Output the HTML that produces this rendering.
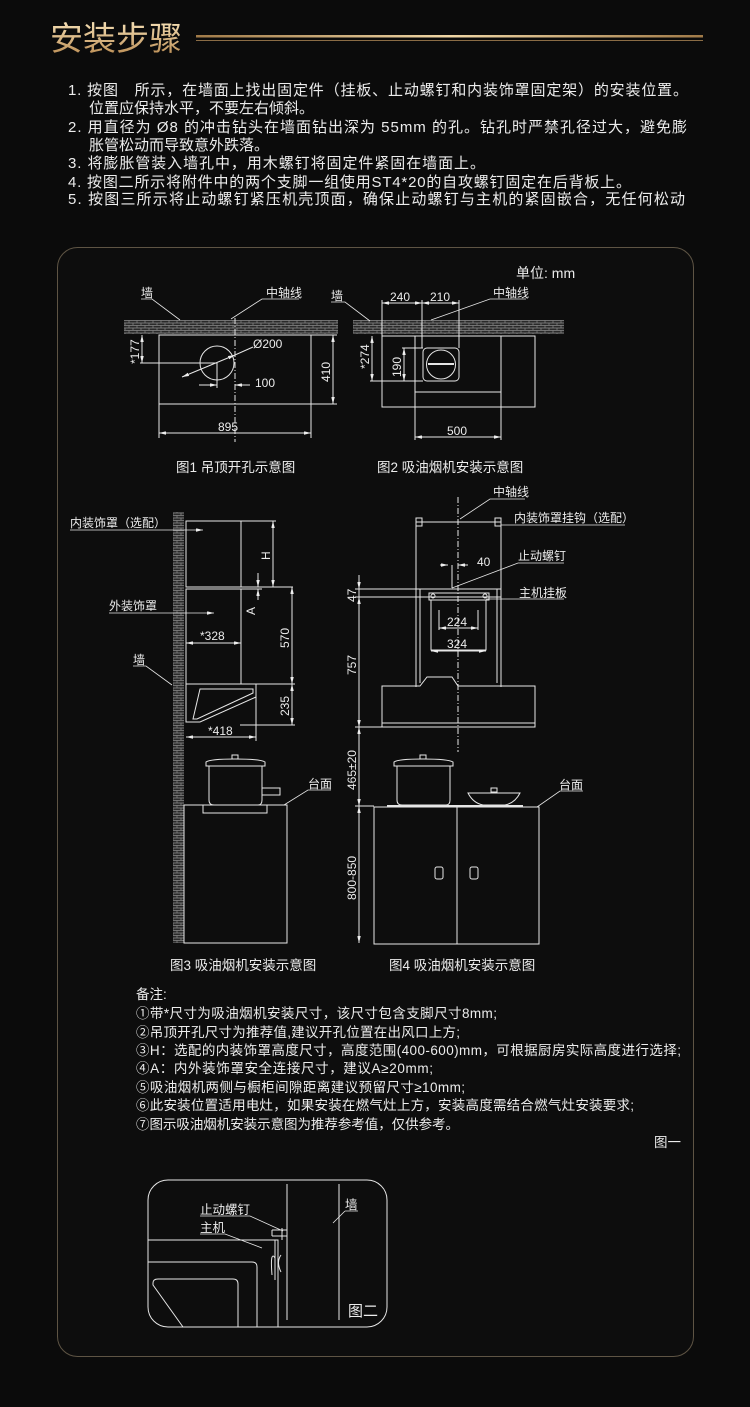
<!DOCTYPE html>
<html><head><meta charset="utf-8"><style>
html,body{margin:0;padding:0;background:#0b0b0b;}
svg{display:block;}
text{font-family:"Liberation Sans","Noto Sans CJK SC",sans-serif;fill:#ececec;}
</style></head><body>
<svg width="750" height="1407" viewBox="0 0 750 1407" xmlns="http://www.w3.org/2000/svg">
<defs>
<linearGradient id="g" x1="0" y1="0" x2="0" y2="1"><stop offset="0" stop-color="#f7e2b8"/><stop offset="1" stop-color="#b98a50"/></linearGradient>
<linearGradient id="gl" x1="0" y1="0" x2="1" y2="0"><stop offset="0" stop-color="#a07a48"/><stop offset=".5" stop-color="#f0d7a6"/><stop offset="1" stop-color="#a07a48"/></linearGradient>
<pattern id="br" width="8" height="5" patternUnits="userSpaceOnUse"><rect width="8" height="5" fill="#2a2a2a"/><path d="M0 .5H8M0 3H8M1 .5V3M5 3V5" stroke="#8a8a8a" stroke-width=".7"/></pattern>
<marker id="a" viewBox="0 0 8 4" refX="8" refY="2" markerWidth="7" markerHeight="3.5" orient="auto-start-reverse" markerUnits="userSpaceOnUse"><path d="M0 0L8 2L0 4Z" fill="#eee"/></marker>
</defs>

<!-- title -->
<text x="50" y="50" font-size="33" style="fill:url(#g)">安装步骤</text>
<rect x="196" y="35" width="507" height="2.5" fill="url(#gl)"/>
<rect x="196" y="40" width="507" height="1" fill="#8a6c45"/>

<g font-size="15">
<text x="68" y="95" textLength="620">1. 按图　所示，在墙面上找出固定件（挂板、止动螺钉和内装饰罩固定架）的安装位置。</text>
<text x="89" y="113">位置应保持水平，不要左右倾斜。</text>
<text x="68" y="132" textLength="619">2. 用直径为 Ø8 的冲击钻头在墙面钻出深为 55mm 的孔。钻孔时严禁孔径过大，避免膨</text>
<text x="89" y="150">胀管松动而导致意外跌落。</text>
<text x="68" y="168" textLength="417">3. 将膨胀管装入墙孔中，用木螺钉将固定件紧固在墙面上。</text>
<text x="68" y="187" textLength="563">4. 按图二所示将附件中的两个支脚一组使用ST4*20的自攻螺钉固定在后背板上。</text>
<text x="68" y="204" textLength="617">5. 按图三所示将止动螺钉紧压机壳顶面，确保止动螺钉与主机的紧固嵌合，无任何松动</text>
</g>

<!-- panel -->
<rect x="57.5" y="247.5" width="636" height="1109" rx="20" fill="#0d0d0d" stroke="#5e5444" stroke-width="1"/>

<g stroke="#e6e6e6" stroke-width="1" fill="none">
<!-- FIG1 -->
<rect x="124" y="320" width="214" height="14" fill="url(#br)" stroke="none"/>
<rect x="159" y="335" width="152" height="69"/>
<line x1="235" y1="318" x2="235" y2="442" stroke-dasharray="6 2 1 2"/>
<circle cx="217" cy="363" r="17"/>
<line x1="182" y1="377" x2="235" y2="355" marker-start="url(#a)" marker-end="url(#a)"/>
<line x1="235" y1="355" x2="253" y2="347"/>
<line x1="142" y1="335" x2="142" y2="363" marker-start="url(#a)" marker-end="url(#a)"/>
<line x1="140" y1="363" x2="217" y2="363"/>
<line x1="199" y1="385" x2="217" y2="385" marker-end="url(#a)"/>
<line x1="235" y1="385" x2="250" y2="385" marker-start="url(#a)"/>
<line x1="217" y1="363" x2="217" y2="388"/>
<line x1="311" y1="335" x2="337" y2="335"/><line x1="311" y1="404" x2="337" y2="404"/>
<line x1="333" y1="335" x2="333" y2="404" marker-start="url(#a)" marker-end="url(#a)"/>
<line x1="159" y1="404" x2="159" y2="438"/><line x1="311" y1="404" x2="311" y2="438"/>
<line x1="159" y1="433" x2="311" y2="433" marker-start="url(#a)" marker-end="url(#a)"/>
<path d="M141 299H152L180 320M299 299H262L231 319" stroke-width=".8"/>

<!-- FIG2 -->
<rect x="353" y="320" width="211" height="14" fill="url(#br)" stroke="none"/>
<rect x="382" y="336" width="153" height="71"/>
<path d="M415 336V392H501V336"/>
<rect x="423" y="348" width="36" height="33" rx="4"/>
<circle cx="441" cy="364.5" r="14.5"/>
<line x1="428" y1="364" x2="454" y2="364" stroke-width="2"/>
<line x1="382" y1="300" x2="382" y2="336"/><line x1="422" y1="300" x2="422" y2="348"/><line x1="459" y1="300" x2="459" y2="348"/>
<line x1="382" y1="303" x2="422" y2="303" marker-start="url(#a)" marker-end="url(#a)"/>
<line x1="422" y1="303" x2="459" y2="303" marker-start="url(#a)" marker-end="url(#a)"/>
<line x1="372" y1="336" x2="372" y2="381" marker-start="url(#a)" marker-end="url(#a)"/>
<line x1="370" y1="381" x2="423" y2="381"/><line x1="402" y1="348" x2="423" y2="348"/>
<line x1="404" y1="348" x2="404" y2="381" marker-start="url(#a)" marker-end="url(#a)"/>
<line x1="415" y1="392" x2="415" y2="440"/><line x1="501" y1="392" x2="501" y2="440"/>
<line x1="415" y1="437" x2="501" y2="437" marker-start="url(#a)" marker-end="url(#a)"/>
<path d="M331 302H345L370 321M526 299H490L431 320" stroke-width=".8"/>

<!-- FIG3 -->
<rect x="173" y="512" width="11" height="431" fill="url(#br)" stroke="none"/>
<rect x="186" y="521" width="55" height="66"/>
<line x1="186" y1="587" x2="293" y2="587"/>
<rect x="186" y="589" width="55" height="95"/>
<path d="M186 684H256V697L200 722H186Z"/>
<path d="M200 689H253V693L197 719H193Z"/>
<line x1="241" y1="521" x2="276" y2="521"/>
<line x1="273" y1="521" x2="273" y2="587" marker-start="url(#a)" marker-end="url(#a)"/>
<line x1="258" y1="573" x2="258" y2="587" marker-end="url(#a)"/>
<line x1="258" y1="589" x2="258" y2="600" marker-start="url(#a)"/>
<line x1="241" y1="589" x2="262" y2="589"/>
<line x1="292" y1="587" x2="292" y2="684" marker-start="url(#a)" marker-end="url(#a)"/>
<line x1="256" y1="684" x2="295" y2="684"/>
<line x1="292" y1="684" x2="292" y2="725" marker-start="url(#a)" marker-end="url(#a)"/>
<line x1="240" y1="725" x2="295" y2="725"/>
<line x1="186" y1="643" x2="241" y2="643" marker-start="url(#a)" marker-end="url(#a)"/>
<line x1="256" y1="697" x2="256" y2="741"/>
<line x1="186" y1="737" x2="256" y2="737" marker-start="url(#a)" marker-end="url(#a)"/>
<line x1="70" y1="530" x2="203" y2="530" marker-end="url(#a)" stroke-width=".8"/>
<line x1="109" y1="613" x2="214" y2="613" marker-end="url(#a)" stroke-width=".8"/>
<path d="M133 666H146L172 685" stroke-width=".8"/>
<!-- pot 3 -->
<path d="M209 766V800Q209 805 214 805H258Q262 805 262 800V766"/>
<path d="M206 766H265V762Q260 759 235 759Q210 759 206 762Z"/>
<rect x="232" y="755" width="6" height="4"/>
<path d="M262 788H280V795H262"/>
<rect x="203" y="805" width="64" height="8"/>
<rect x="184" y="805" width="103" height="138"/>
<path d="M331 790H308L284 805" stroke-width=".8"/>

<!-- FIG4 -->
<line x1="458" y1="497" x2="458" y2="752" stroke-dasharray="6 2 1 2"/>
<rect x="416" y="522" width="85" height="67"/>
<rect x="416" y="518" width="6" height="8"/><rect x="495" y="518" width="6" height="8"/>
<path d="M416 589V687M501 589V687M420 589V683M497 589V683"/>
<rect x="429" y="593" width="60" height="7"/>
<circle cx="433" cy="596" r="2"/><circle cx="485" cy="596" r="2"/>
<path d="M431 600V650H486V600"/>
<line x1="439" y1="628" x2="478" y2="628" marker-start="url(#a)" marker-end="url(#a)"/>
<line x1="439" y1="610" x2="439" y2="630"/><line x1="478" y1="610" x2="478" y2="630"/>
<line x1="431" y1="651" x2="486" y2="651" marker-start="url(#a)" marker-end="url(#a)"/>
<line x1="440" y1="565" x2="448" y2="565" marker-end="url(#a)"/>
<line x1="458" y1="565" x2="468" y2="565" marker-start="url(#a)"/>
<line x1="452" y1="565" x2="452" y2="588"/>
<path d="M382 686H420L427 677H452L458 686H535V727H382Z"/>
<line x1="382" y1="723" x2="535" y2="723"/>
<line x1="359" y1="575" x2="359" y2="943"/>
<line x1="359" y1="575" x2="359" y2="589" marker-end="url(#a)"/>
<line x1="359" y1="597" x2="359" y2="727" marker-start="url(#a)" marker-end="url(#a)"/>
<line x1="359" y1="727" x2="359" y2="806" marker-start="url(#a)" marker-end="url(#a)"/>
<line x1="359" y1="806" x2="359" y2="943" marker-start="url(#a)" marker-end="url(#a)"/>
<line x1="355" y1="589" x2="501" y2="589"/>
<line x1="355" y1="597" x2="501" y2="597"/>
<line x1="355" y1="727" x2="382" y2="727"/>
<line x1="355" y1="806" x2="374" y2="806"/>
<rect x="374" y="807" width="165" height="137"/>
<line x1="457" y1="807" x2="457" y2="944"/>
<rect x="435" y="867" width="8" height="12" rx="2"/><rect x="470" y="867" width="8" height="12" rx="2"/>
<line x1="387" y1="806" x2="523" y2="806" stroke-width="2"/>
<path d="M397 766V800Q397 805 402 805H446Q450 805 450 800V766"/>
<path d="M394 766H453V762Q448 759 423 759Q398 759 394 762Z"/>
<rect x="420" y="755" width="6" height="4"/>
<path d="M468 793H520Q515 803 505 805H483Q473 803 468 793Z"/>
<rect x="491" y="788" width="6" height="4"/>
<path d="M525 499H490L460 519M625 525H501M564 563H518L452 588M564 599H486M583 791H560L537 807" stroke-width=".8"/>

<!-- FIG 二 -->
<rect x="148" y="1180" width="239" height="147" rx="20"/>
<line x1="287" y1="1184" x2="287" y2="1320"/>
<line x1="339" y1="1184" x2="339" y2="1320"/>
<path d="M148 1240H278V1327"/>
<path d="M148 1262H252Q257 1262 257 1267V1327"/>
<path d="M183 1327L153 1285V1283Q153 1279 158 1279H233Q238 1279 238 1284V1327"/>
<path d="M272 1230H287M272 1236H287M272 1230V1236M282 1228V1240"/>
<path d="M275 1240V1280M275 1258Q270 1250 272 1275M281 1255Q276 1262 281 1272"/>
<path d="M200 1216H250L283 1231M200 1234H225L262 1248M345 1211H358M345 1211L333 1223" stroke-width=".8"/>
</g>

<g font-size="12">
<text x="141" y="297">墙</text>
<text x="266" y="297">中轴线</text>
<text x="253" y="348">Ø200</text>
<text x="255" y="387">100</text>
<text x="218" y="431">895</text>
<text transform="translate(139,364) rotate(-90)">*177</text>
<text transform="translate(330,382) rotate(-90)">410</text>
<text x="331" y="300">墙</text>
<text x="390" y="301">240</text>
<text x="430" y="301">210</text>
<text x="493" y="297">中轴线</text>
<text transform="translate(369,369) rotate(-90)">*274</text>
<text transform="translate(401,377) rotate(-90)">190</text>
<text x="447" y="435">500</text>

<text x="70" y="527">内装饰罩（选配）</text>
<text x="109" y="610">外装饰罩</text>
<text x="133" y="664">墙</text>
<text transform="translate(270,560) rotate(-90)">H</text>
<text transform="translate(255,615) rotate(-90)">A</text>
<text x="200" y="640">*328</text>
<text transform="translate(289,648) rotate(-90)">570</text>
<text transform="translate(289,716) rotate(-90)">235</text>
<text x="208" y="735">*418</text>
<text x="308" y="788">台面</text>

<text x="493" y="496">中轴线</text>
<text x="514" y="522">内装饰罩挂钩（选配）</text>
<text x="518" y="560">止动螺钉</text>
<text x="477" y="566">40</text>
<text x="519" y="597">主机挂板</text>
<text x="447" y="626">224</text>
<text x="447" y="648">324</text>
<text transform="translate(356,602) rotate(-90)">47</text>
<text transform="translate(356,675) rotate(-90)">757</text>
<text transform="translate(356,790) rotate(-90)">465±20</text>
<text transform="translate(356,900) rotate(-90)">800-850</text>
<text x="559" y="789">台面</text>
</g>

<text x="516" y="278" font-size="14">单位: mm</text>
<g font-size="13.5">
<text x="176" y="472">图1 吊顶开孔示意图</text>
<text x="377" y="472">图2 吸油烟机安装示意图</text>
<text x="170" y="970">图3 吸油烟机安装示意图</text>
<text x="389" y="970">图4 吸油烟机安装示意图</text>
</g>

<g font-size="13.5">
<text x="136" y="999">备注:</text>
<text x="136" y="1018" textLength="361">①带*尺寸为吸油烟机安装尺寸，该尺寸包含支脚尺寸8mm;</text>
<text x="136" y="1037" textLength="324">②吊顶开孔尺寸为推荐值,建议开孔位置在出风口上方;</text>
<text x="136" y="1055" textLength="545">③H：选配的内装饰罩高度尺寸，高度范围(400-600)mm，可根据厨房实际高度进行选择;</text>
<text x="136" y="1073" textLength="297">④A：内外装饰罩安全连接尺寸，建议A≥20mm;</text>
<text x="136" y="1092" textLength="329">⑤吸油烟机两侧与橱柜间隙距离建议预留尺寸≥10mm;</text>
<text x="136" y="1110" textLength="498">⑥此安装位置适用电灶，如果安装在燃气灶上方，安装高度需结合燃气灶安装要求;</text>
<text x="136" y="1129" textLength="323">⑦图示吸油烟机安装示意图为推荐参考值，仅供参考。</text>
<text x="654" y="1147">图一</text>
</g>
<g font-size="12.5">
<text x="200" y="1214">止动螺钉</text>
<text x="200" y="1232">主机</text>
<text x="345" y="1209">墙</text>
</g>
<text x="348" y="1316" font-size="15">图二</text>
</svg>
</body></html>
